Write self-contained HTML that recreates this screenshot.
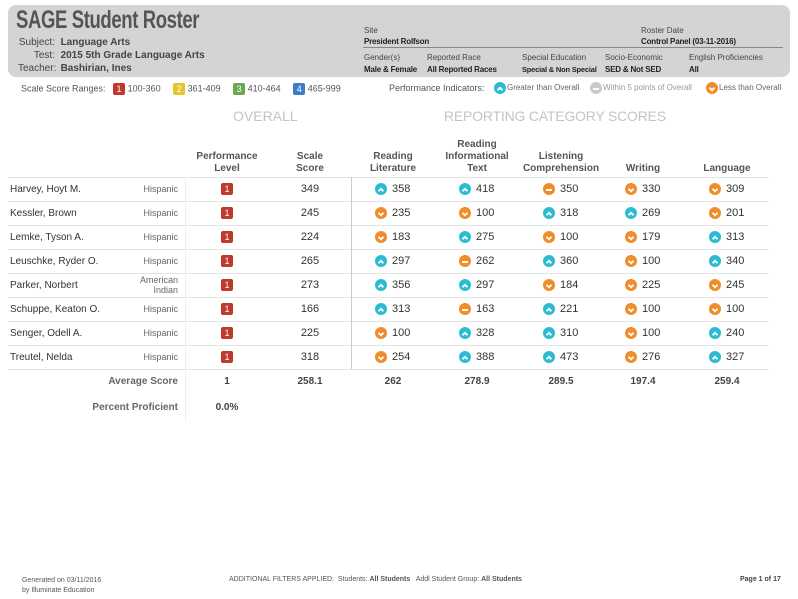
<!DOCTYPE html>
<html><head><meta charset="utf-8">
<style>
*{box-sizing:border-box;margin:0;padding:0}
body{width:798px;height:599px;background:#fff;font-family:"Liberation Sans",sans-serif;color:#333;position:relative;overflow:hidden}
.a{position:absolute;white-space:nowrap}
#hdr{position:absolute;left:8px;top:5px;width:782px;height:72px;background:#d4d4d6;border-radius:8px}
.lbl{font-size:8px;color:#444}
.val{font-size:8px;font-weight:bold;color:#222;letter-spacing:-0.2px}
.badge{display:inline-block;width:12px;height:12px;border-radius:2px;color:#fff;font-size:9px;text-align:center;line-height:12px;vertical-align:middle}
.ic{position:absolute;width:12px;height:12px;border-radius:50%}
.th{font-size:10px;font-weight:bold;color:#555;text-align:center;line-height:12px}
.cell{font-size:11px;color:#333}
.hl{position:absolute;height:1px;background:#e4e4e4}
</style></head><body>
<div id="hdr"></div>
<div class="a" style="left:16px;top:6px;font-size:25px;font-weight:bold;color:#555;letter-spacing:-0.5px;transform:scaleX(0.74);transform-origin:left">SAGE Student Roster</div>
<div class="a" style="left:18px;top:36px;font-size:10px;color:#444;line-height:13px">
<div><span style="display:inline-block;width:37px;text-align:right">Subject:</span>&nbsp; <b>Language Arts</b></div>
<div><span style="display:inline-block;width:37px;text-align:right">Test:</span>&nbsp; <b>2015 5th Grade Language Arts</b></div>
<div><span style="display:inline-block;width:37px;text-align:right">Teacher:</span>&nbsp; <b>Bashirian, Ines</b></div></div>
<div class="a lbl" style="left:364px;top:26px">Site</div>
<div class="a val" style="left:364px;top:37px">President Rolfson</div>
<div class="a lbl" style="left:641px;top:26px">Roster Date</div>
<div class="a val" style="left:641px;top:37px">Control Panel (03-11-2016)</div>
<div class="a" style="left:363px;top:47px;width:420px;height:1px;background:#888"></div>
<div class="a lbl" style="left:364px;top:53px">Gender(s)</div><div class="a val" style="left:364px;top:65px">Male &amp; Female</div>
<div class="a lbl" style="left:427px;top:53px">Reported Race</div><div class="a val" style="left:427px;top:65px">All Reported Races</div>
<div class="a lbl" style="left:522px;top:53px">Special Education</div><div class="a val" style="left:522px;top:65px;font-size:7.5px">Special &amp; Non Special</div>
<div class="a lbl" style="left:605px;top:53px">Socio-Economic</div><div class="a val" style="left:605px;top:65px">SED &amp; Not SED</div>
<div class="a lbl" style="left:689px;top:53px">English Proficiencies</div><div class="a val" style="left:689px;top:65px">All</div>

<div class="a" style="left:21px;top:83px;font-size:9px;color:#555">Scale Score Ranges:&nbsp;&nbsp;
<span class="badge" style="background:#c0392b">1</span> 100-360&nbsp;&nbsp;&nbsp;&nbsp;
<span class="badge" style="background:#e8c52a">2</span> 361-409&nbsp;&nbsp;&nbsp;&nbsp;
<span class="badge" style="background:#6aa84f">3</span> 410-464&nbsp;&nbsp;&nbsp;&nbsp;
<span class="badge" style="background:#3d7cc9">4</span> 465-999</div>
<div class="a" style="left:389px;top:83px;font-size:9px;color:#555">Performance Indicators:</div>
<div id="leg"></div>

<div class="a" style="left:233px;top:108px;font-size:14px;color:#c4c4c4">OVERALL</div>
<div class="a" style="left:444px;top:108px;font-size:14px;color:#c4c4c4;letter-spacing:-0.2px">REPORTING CATEGORY SCORES</div>
<div id="tbl"></div>

<div class="a" style="left:22px;top:576px;font-size:7px;color:#555;line-height:10px">Generated on 03/11/2016<br>by Illuminate Education</div>
<div class="a" style="left:229px;top:576px;font-size:7px;color:#555">ADDITIONAL FILTERS APPLIED:&nbsp; Students: <b>All Students</b>&nbsp;&nbsp; Addl Student Group: <b>All Students</b></div>
<div class="a" style="left:740px;top:576px;font-size:7px;font-weight:bold;color:#444">Page 1 of 17</div>

<script>
const names=["Harvey, Hoyt M.","Kessler, Brown","Lemke, Tyson A.","Leuschke, Ryder O.","Parker, Norbert","Schuppe, Keaton O.","Senger, Odell A.","Treutel, Nelda"];
const races=["Hispanic","Hispanic","Hispanic","Hispanic","American Indian","Hispanic","Hispanic","Hispanic"];
const levels=[1,1,1,1,1,1,1,1];
const scaleScores=[349,245,224,265,273,166,225,318];
const categories=["Reading Literature","Reading Informational Text","Listening Comprehension","Writing","Language"];
const catScores=[[358,418,350,330,309],[235,100,318,269,201],[183,275,100,179,313],[297,262,360,100,340],[356,297,184,225,245],[313,163,221,100,100],[100,328,310,100,240],[254,388,473,276,327]];
const catInd=[["u","u","m","d","d"],["d","d","u","u","d"],["d","u","d","d","u"],["u","m","u","d","u"],["u","u","d","d","d"],["u","m","u","d","d"],["d","u","u","d","u"],["d","u","u","d","u"]];
const averages=["1","258.1","262","278.9","289.5","197.4","259.4"];
const pctProficient="0.0%";

function icon(type,x,y,parent,gray){
  const d=document.createElement('div');d.className='ic';
  
  
  const col=type==='u'?'#2bbcd0':(gray?'#c9c9c9':'#f08c2a');
  d.style.cssText+=`left:${x}px;top:${y}px;background:${col}`;
  let s;
  if(type==='m')s='<svg width="12" height="12"><rect x="3" y="5" width="6" height="2" fill="#fff"/></svg>';
  else if(type==='u')s='<svg width="12" height="12"><polyline points="3.5,7.3 6,4.8 8.5,7.3" fill="none" stroke="#fff" stroke-width="1.8"/></svg>';
  else s='<svg width="12" height="12"><polyline points="3.5,4.8 6,7.3 8.5,4.8" fill="none" stroke="#fff" stroke-width="1.8"/></svg>';
  d.innerHTML=s;parent.appendChild(d);
}
function txt(parent,html,x,y,cls,style,name){
  const d=document.createElement('div');d.className='a '+(cls||'');
  
  
  d.style.cssText+=`left:${x}px;top:${y}px;`+(style||'');d.innerHTML=html;parent.appendChild(d);return d;
}
const leg=document.getElementById('leg');
icon('u',494,82,leg);txt(leg,'Greater than Overall',507,83,'','font-size:8px;color:#666','legend-greater');
icon('m',590,82,leg,true);txt(leg,'Within 5 points of Overall',603,83,'','font-size:8px;color:#999','legend-within');
icon('d',706,82,leg);txt(leg,'Less than Overall',719,83,'','font-size:8px;color:#666','legend-less');

const T=document.getElementById('tbl');
const rowY=i=>177+i*24;
const catX=[393,477,561,643,727];
txt(T,'Performance<br>Level',187,151,'th','width:80px','header-performance-level');
txt(T,'Scale<br>Score',280,151,'th','width:60px','header-scale-score');
const hdrs=[['Reading','Literature'],['Reading','Informational','Text'],['Listening','Comprehension'],['Writing'],['Language']];
hdrs.forEach((h,j)=>{txt(T,h.join('<br>'),catX[j]-45,175-h.length*12,'th','width:90px','header-'+categories[j].toLowerCase().replace(/ /g,'-'));});
for(let i=0;i<=8;i++){const l=document.createElement('div');l.className='hl';l.style.cssText+=`left:8px;top:${rowY(i)}px;width:761px`;T.appendChild(l);}
const v1=document.createElement('div');v1.className='a';v1.style.cssText='left:351px;top:177px;width:1px;height:192px;background:#ccc';T.appendChild(v1);
const v2=document.createElement('div');v2.className='a';v2.style.cssText='left:185px;top:177px;width:1px;height:245px;background:#eee';T.appendChild(v2);
names.forEach((n,i)=>{
  const y=rowY(i);
  txt(T,n,10,y+7,'','font-size:10px;color:#333','student-name');
  const r=races[i];
  if(r.includes(' ')) txt(T,r.replace(' ','<br>'),120,y+2,'','width:58px;text-align:right;font-size:9px;color:#666;line-height:10px','student-race');
  else txt(T,r,120,y+7,'','width:58px;text-align:right;font-size:9px;color:#666','student-race');
  txt(T,String(levels[i]),221,y+6,'badge','background:#c0392b;position:absolute','performance-level-badge');
  txt(T,String(scaleScores[i]),290,y+6,'cell','width:40px;text-align:center','scale-score');
  catScores[i].forEach((v,j)=>{
    icon(catInd[i][j],catX[j]-18,y+6,T);
    txt(T,String(v),catX[j]-1,y+6,'cell','','category-score');
  });
});
const ay=376;
txt(T,'Average Score',60,ay,'','width:118px;text-align:right;font-size:10px;font-weight:bold;color:#666','average-score-label');
const avgX=[227,310].concat(catX);
averages.forEach((a,j)=>txt(T,a,avgX[j]-30,ay,'','width:60px;text-align:center;font-size:10px;font-weight:bold;color:#444','average-value'));
txt(T,'Percent Proficient',60,402,'','width:118px;text-align:right;font-size:10px;font-weight:bold;color:#666','percent-proficient-label');
txt(T,pctProficient,197,402,'','width:60px;text-align:center;font-size:10px;font-weight:bold;color:#444','percent-proficient-value');
</script>
</body></html>
